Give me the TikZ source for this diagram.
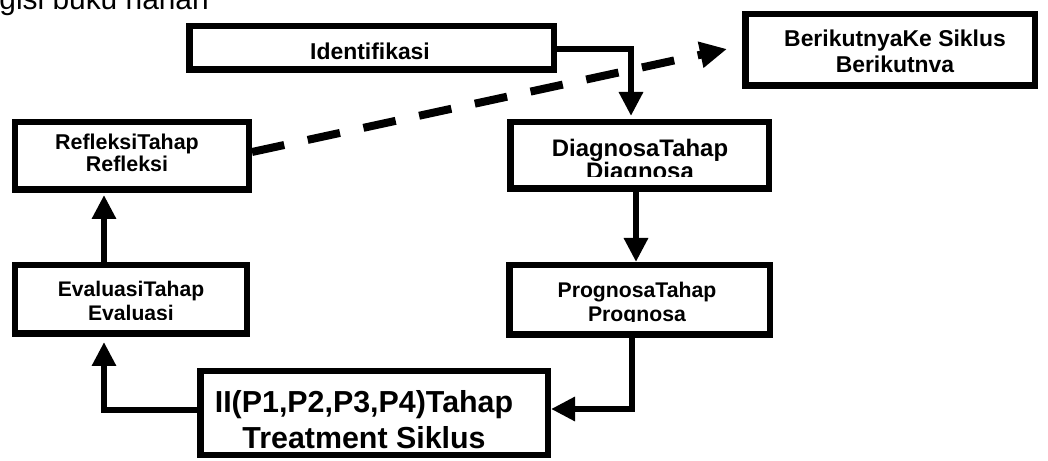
\documentclass[tikz,border=0pt]{standalone}
\usepackage{fontspec}
\setmainfont{Liberation Sans}
\usetikzlibrary{arrows.meta}
\begin{document}
\begin{tikzpicture}[x=1bp,y=-1bp,
  box/.style={draw, line width=6.5bp, inner sep=0pt, rectangle},
  lbl/.style={inner sep=0pt, anchor=base, font=\bfseries\fontsize{#1}{#1}\selectfont},
  conn/.style={line width=6bp, -{Triangle[length=24bp,width=23bp]}},
  dconn/.style={line width=8bp, dash pattern=on 33bp off 24bp, -{Triangle[length=27bp,width=25bp]}}]
\useasboundingbox (0,0) rectangle (1048,461);

% top text (cut off by the page edge)
\node[inner sep=0pt, anchor=base east, font=\fontsize{30}{36}\selectfont] (top) at (209,10) {gisi buku harian};

% boxes
\node[box, minimum width=364.5bp, minimum height=43.5bp] (ident) at (371.5,48) {};
\node[box, minimum width=289.5bp, minimum height=71.5bp] (berik) at (890,50) {};
\node[box, minimum width=233.5bp, minimum height=67.5bp] (refl) at (132,156) {};
\node[box, minimum width=258.5bp, minimum height=66.5bp] (diag) at (639.5,155.5) {};
\node[box, minimum width=231.5bp, minimum height=68.5bp] (eval) at (131,299.5) {};
\node[box, minimum width=260.5bp, minimum height=69.5bp] (prog) at (639.5,300) {};
\node[box, minimum width=347.5bp, minimum height=83.5bp] (treat) at (374,413) {};

% texts
\node[lbl=23] (identA) at (370,60) {Identifikasi};
\node[lbl=23] (berikA) at (895,47) {BerikutnyaKe Siklus};
\node[lbl=23] (berikB) at (895,73) {Berikutnva};
\node[lbl=21.5] (reflA) at (127,150) {RefleksiTahap};
\node[lbl=21.5] (reflB) at (127,172) {Refleksi};
\node[lbl=24] (diagA) at (640,157) {DiagnosaTahap};
\begin{scope}
  \clip (510,160) rectangle (770,177);
  \node[lbl=24] (diagB) at (640,180) {Diagnosa};
\end{scope}
\node[lbl=21.2] (evalA) at (131,297) {EvaluasiTahap};
\begin{scope}
  \clip (15,303) rectangle (248,320);
  \node[lbl=21.2] (evalB) at (131,320.5) {Evaluasi};
\end{scope}
\node[lbl=21.3] (progA) at (637,298) {PrognosaTahap};
\begin{scope}
  \clip (510,303) rectangle (770,322);
  \node[lbl=21.3] (progB) at (637,322) {Prognosa};
\end{scope}
\node[lbl=30.5] (treatA) at (364,413) {II(P1,P2,P3,P4)Tahap};
\node[lbl=30.5] (treatB) at (364,448) {Treatment Siklus};

% connector points
\coordinate (d1) at (631,116);
\coordinate (d2) at (636,192);
\coordinate (p1) at (636,262);
\coordinate (p2) at (632,338);
\coordinate (t1) at (551,409);
\coordinate (t2) at (197,410);
\coordinate (e1) at (104,342);
\coordinate (e2) at (104,262);
\coordinate (r1) at (104,195);
\coordinate (r2) at (252,152);
\coordinate (b1) at (727,49);

\draw[conn] (ident.east |- 0,49) -| (d1);
\draw[conn] (d2) -- (p1);
\draw[conn] (p2) |- (t1);
\draw[conn] (t2) -| (e1);
\draw[conn] (e2) -- (r1);
\draw[dconn] (r2) -- (b1);
\end{tikzpicture}
\end{document}
